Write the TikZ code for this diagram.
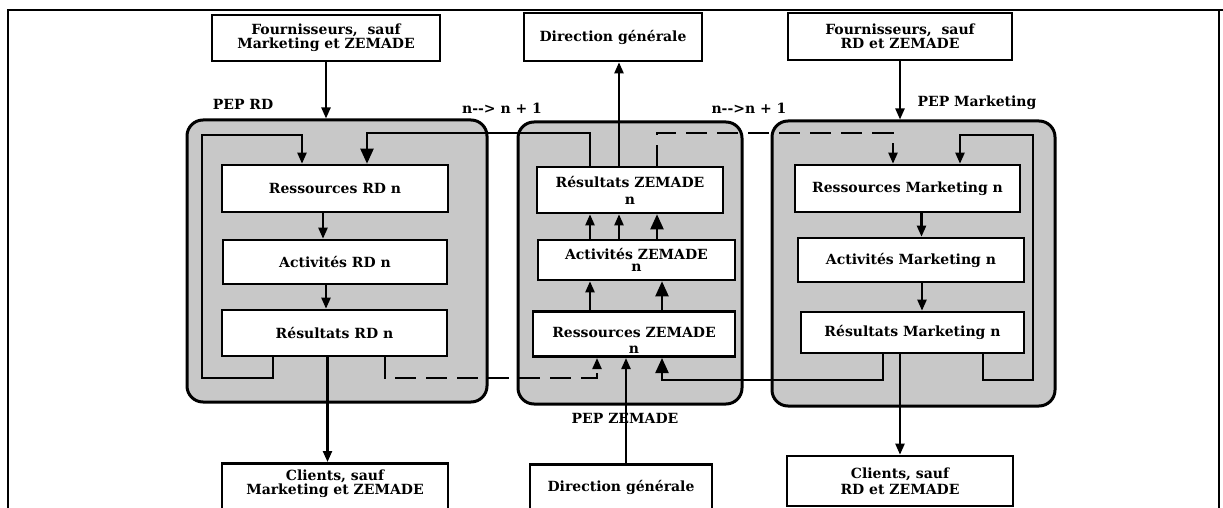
\documentclass[tikz,border=0pt]{standalone}
\usepackage{fontspec}
\setmainfont{DejaVu Serif}
\usetikzlibrary{arrows.meta}
\definecolor{dotgray}{RGB}{200,200,200}
\newcommand{\boxfont}{\bfseries\fontsize{14}{14}\selectfont}
\newcommand{\tightfont}{\bfseries\fontsize{14}{12.5}\selectfont}

\tikzset{
  pep/.style={draw,line width=3pt,rounded corners=16pt,fill=dotgray},
  box/.style={draw,line width=2.6pt,fill=white,font=\boxfont,align=center,inner sep=3pt},
  lbl/.style={font=\boxfont},
  arr/.style={line width=2.2pt,-{Triangle[length=11pt,width=9pt]}},
  bigarr/.style={line width=2.2pt,-{Triangle[length=15pt,width=13pt]}},
  chan/.style={line width=2.4pt},
  dashchan/.style={line width=2.4pt,dash pattern=on 21pt off 10pt},
}

\begin{document}
\begin{tikzpicture}[x=1pt,y=-1pt]
\useasboundingbox (0,0) rectangle (1223,508);
\clip (0,0) rectangle (1223,508);
\fill[white] (0,0) rectangle (1223,508);
\draw[line width=2pt] (8,520) -- (8,10) -- (1223,10);
\draw[line width=2pt] (1219,10) -- (1219,520);

% suppliers, clients, direction
\node[box,font=\tightfont,minimum width=228pt,minimum height=46pt] (fourRD) at (326,38) {Fournisseurs,\ \ sauf\\Marketing et ZEMADE};
\node[box,minimum width=178pt,minimum height=48pt] (dirTop) at (613,37) {Direction générale};
\node[box,font=\tightfont,minimum width=224pt,minimum height=47pt] (fourMK) at (900,36.5) {Fournisseurs,\ \ sauf\\RD et ZEMADE};
\node[box,font=\tightfont,anchor=north,minimum width=226pt,text height=28pt,text depth=30pt] (cliRD) at (335,462) {Clients, sauf\\Marketing et ZEMADE};
\node[box,anchor=north,minimum width=182pt,text height=24pt,text depth=30pt] (dirBot) at (621,463) {Direction générale};
\node[box,font=\bfseries\fontsize{14}{16}\selectfont,minimum width=226pt,minimum height=50pt] (cliMK) at (900,481) {Clients, sauf\\RD et ZEMADE};

% the three PEP
\node[pep,minimum width=300pt,minimum height=282pt] (pepRD) at (337,261) {};
\node[pep,minimum width=224pt,minimum height=282pt] (pepZE) at (630,263) {};
\node[pep,minimum width=283pt,minimum height=285pt] (pepMK) at (913.5,263.5) {};

\node[lbl] (lblRD) at (243,104) {PEP RD};
\node[lbl] (lblStepA) at (502,108) {n-{}-> n + 1};
\node[lbl] (lblStepB) at (749,108) {n-{}->n + 1};
\node[lbl] (lblMK) at (977,103) {PEP Marketing};
\node[lbl] (lblZE) at (625,418) {PEP ZEMADE};

\node[box,minimum width=226pt,minimum height=47pt] (ressRD) at (335,188.5) {Ressources RD n};
\node[box,minimum width=224pt,minimum height=44pt] (actRD) at (335,262) {Activités RD n};
\node[box,minimum width=225pt,minimum height=46pt] (resRD) at (334.5,333) {Résultats RD n};

\node[box,minimum width=186pt,minimum height=46pt,font=\bfseries\fontsize{14}{17}\selectfont] (resZE) at (630,190) {Résultats ZEMADE\\n};
\node[box,minimum width=197pt,minimum height=40pt,font=\bfseries\fontsize{14}{12}\selectfont] (actZE) at (636.5,260) {Activités ZEMADE\\n};
\node[box,anchor=south,minimum width=202pt,text height=39pt,text depth=0pt,font=\bfseries\fontsize{14}{16}\selectfont] (ressZE) at (634,358) {Ressources ZEMADE\\n};

\node[box,minimum width=225pt,minimum height=47pt] (ressMK) at (907.5,188.5) {Ressources Marketing n};
\node[box,minimum width=226pt,minimum height=44pt] (actMK) at (911,260) {Activités Marketing n};
\node[box,minimum width=223pt,minimum height=41pt] (resMK) at (912.5,332.5) {Résultats Marketing n};

\coordinate (rdLoopA) at (273,378);
\coordinate (rdLoopB) at (202,135);
\coordinate (rdLoopC) at (302,0);
\coordinate (rdTop) at (367,133);
\coordinate (rdOut) at (385,378);
\coordinate (zeL) at (590,0);
\coordinate (zeM) at (619,0);
\coordinate (zeR) at (657,0);
\coordinate (zeLb) at (597,0);
\coordinate (zeMb) at (626,0);
\coordinate (zeRb) at (662,0);
\coordinate (mkTop) at (893,133);
\coordinate (mkOut) at (883,380);
\coordinate (mkLoopA) at (983,380);
\coordinate (mkLoopB) at (1033,135);
\coordinate (mkLoopC) at (960,0);

% flows in and out
\draw[arr] (fourRD.south) -- (fourRD.south |- pepRD.north);
\draw[arr] (fourMK.south) -- (fourMK.south |- pepMK.north);
\draw[arr] (zeM |- resZE.north) -- (zeM |- dirTop.south);
\draw[arr] (zeMb |- dirBot.north) -- (zeMb |- ressZE.south);
\draw[arr] ([xshift=-7pt]resRD.south) -- ([xshift=-7pt]resRD.south |- cliRD.north);
\draw[arr] (cliMK.north |- resMK.south) -- (cliMK.north);

% inside each PEP
\draw[arr] ([xshift=-12pt]ressRD.south) -- ([xshift=-12pt]ressRD.south |- actRD.north);
\draw[arr] ([xshift=-9pt]actRD.south) -- ([xshift=-9pt]actRD.south |- resRD.north);
\draw[arr] ([xshift=14pt]ressMK.south) -- ([xshift=14pt]ressMK.south |- actMK.north);
\draw[arr] ([xshift=11pt]actMK.south) -- ([xshift=11pt]actMK.south |- resMK.north);
\draw[arr] (zeL |- actZE.north) -- (zeL |- resZE.south);
\draw[arr] (zeM |- actZE.north) -- (zeM |- resZE.south);
\draw[bigarr] (zeR |- actZE.north) -- (zeR |- resZE.south);
\draw[arr] (zeL |- ressZE.north) -- (zeL |- actZE.south);
\draw[bigarr] (zeRb |- ressZE.north) -- (zeRb |- actZE.south);

% n --> n+1 loops
\draw[chan,arr] (rdLoopA |- resRD.south) -- (rdLoopA) -| (rdLoopB) -| (rdLoopC |- ressRD.north);
\draw[chan,bigarr] (zeL |- resZE.north) |- (rdTop) -- (rdTop |- ressRD.north);
\draw[dashchan,arr] (rdOut |- resRD.south) -- (rdOut) -| (zeLb |- ressZE.south);
\draw[chan,bigarr] (mkOut |- resMK.south) -- (mkOut) -| (zeRb |- ressZE.south);
\draw[dashchan,arr] (zeR |- resZE.north) |- (mkTop) -- (mkTop |- ressMK.north);
\draw[chan,arr] (mkLoopA |- resMK.south) -- (mkLoopA) -| (mkLoopB) -| (mkLoopC |- ressMK.north);
\end{tikzpicture}
\end{document}
